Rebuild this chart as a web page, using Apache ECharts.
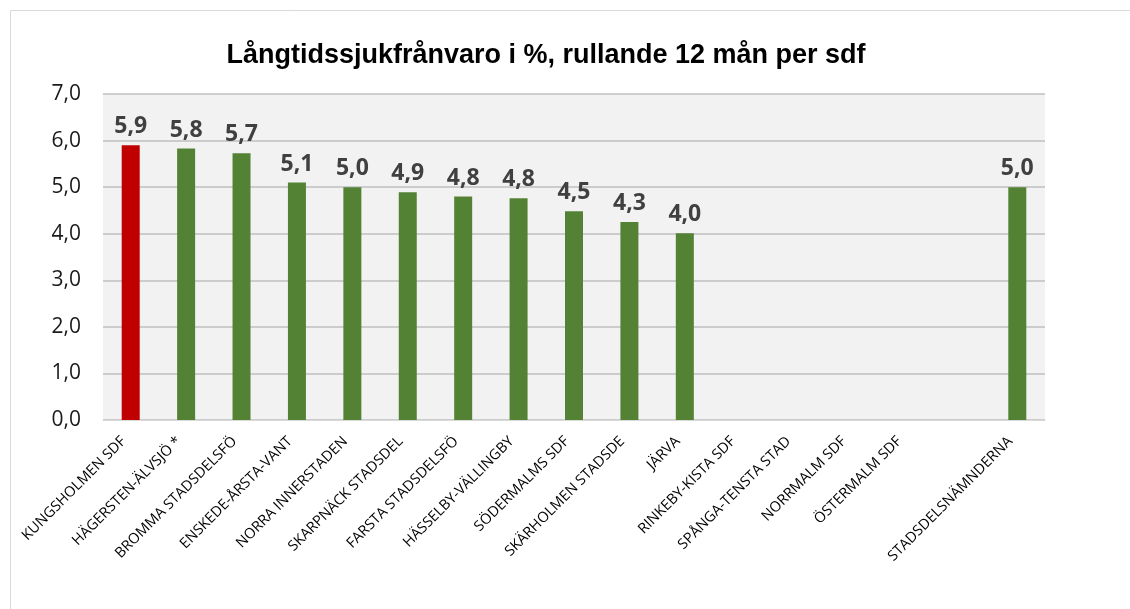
<!DOCTYPE html>
<html>
<head>
<meta charset="utf-8">
<script src="https://cdn.jsdelivr.net/npm/echarts@6/dist/echarts.min.js"></script>
<style>
  html, body { margin: 0; padding: 0; background: #fff; }
  #chart { width: 1130px; height: 609px; }
</style>
</head>
<body>
<div id="chart"></div>
<script>
// kategorier (tom plats före totalen)
const categories = [
  'KUNGSHOLMEN SDF', 'HÄGERSTEN-ÄLVSJÖ *', 'BROMMA STADSDELSFÖ', 'ENSKEDE-ÅRSTA-VANT',
  'NORRA INNERSTADEN', 'SKARPNÄCK STADSDEL', 'FARSTA STADSDELSFÖ', 'HÄSSELBY-VÄLLINGBY',
  'SÖDERMALMS SDF', 'SKÄRHOLMEN STADSDE', 'JÄRVA', 'RINKEBY-KISTA SDF',
  'SPÅNGA-TENSTA STAD', 'NORRMALM SDF', 'ÖSTERMALM SDF', '', 'STADSDELSNÄMNDERNA'
]
const values = [5.9, 5.83, 5.73, 5.1, 5.0, 4.89, 4.8, 4.76, 4.48, 4.25, 4.01, null, null, null, null, null, 5.0]
const highlightIndex = 0
const yTicks = [0, 1, 2, 3, 4, 5, 6, 7]

const chart = echarts.init(document.getElementById('chart'))

const option = {
  animation: false,
  backgroundColor: '#fff',
  title: {
    text: 'Långtidssjukfrånvaro i %, rullande 12 mån per sdf',
    left: 541,
    textAlign: 'center',
    top: 37,
    textStyle: {
      fontFamily: 'Liberation Sans, Arial',
      fontSize: 27,
      fontWeight: 'bold',
      color: '#000'
    }
  },
  graphic: [
    {
      type: 'rect',
      shape: { x: 10.5, y: 10.5, width: 1140, height: 640 },
      style: { fill: 'none', stroke: '#D9D9D9', lineWidth: 1 },
      silent: true
    }
  ],
  grid: {
    left: 103,
    right: 85,
    top: 94,
    bottom: 189,
    show: true,
    backgroundColor: '#F2F2F2',
    borderWidth: 0
  },
  xAxis: {
    type: 'category',
    data: categories,
    axisLine: { lineStyle: { color: '#D9D9D9', width: 1 } },
    axisTick: { show: false },
    axisLabel: {
      interval: 0,
      rotate: 45,
      margin: 12,
      padding: [0, 10, 0, 0],
      fontFamily: 'Open Sans',
      fontSize: 14.5,
      color: '#000'
    }
  },
  yAxis: {
    type: 'value',
    min: yTicks[0],
    max: yTicks[yTicks.length - 1],
    interval: 1,
    axisLine: { show: false },
    axisTick: { show: false },
    splitLine: { lineStyle: { color: '#BFBFBF', width: 1.5 } },
    axisLabel: {
      margin: 22,
      fontFamily: 'Open Sans',
      fontSize: 21,
      color: '#1a1a1a',
      formatter: v => v.toFixed(1).replace('.', ',')
    }
  },
  series: [
    {
      type: 'bar',
      barWidth: 18,
      data: values.map((v, i) => ({
        value: v,
        itemStyle: { color: i === highlightIndex ? '#C00000' : '#548235' }
      })),
      label: {
        show: true,
        position: 'top',
        distance: 7,
        fontFamily: 'Open Sans',
        fontSize: 23,
        fontWeight: 'bold',
        color: '#404040',
        formatter: p => p.value == null ? '' : p.value.toFixed(1).replace('.', ',')
      }
    }
  ]
}

chart.setOption(option)
</script>
</body>
</html>
